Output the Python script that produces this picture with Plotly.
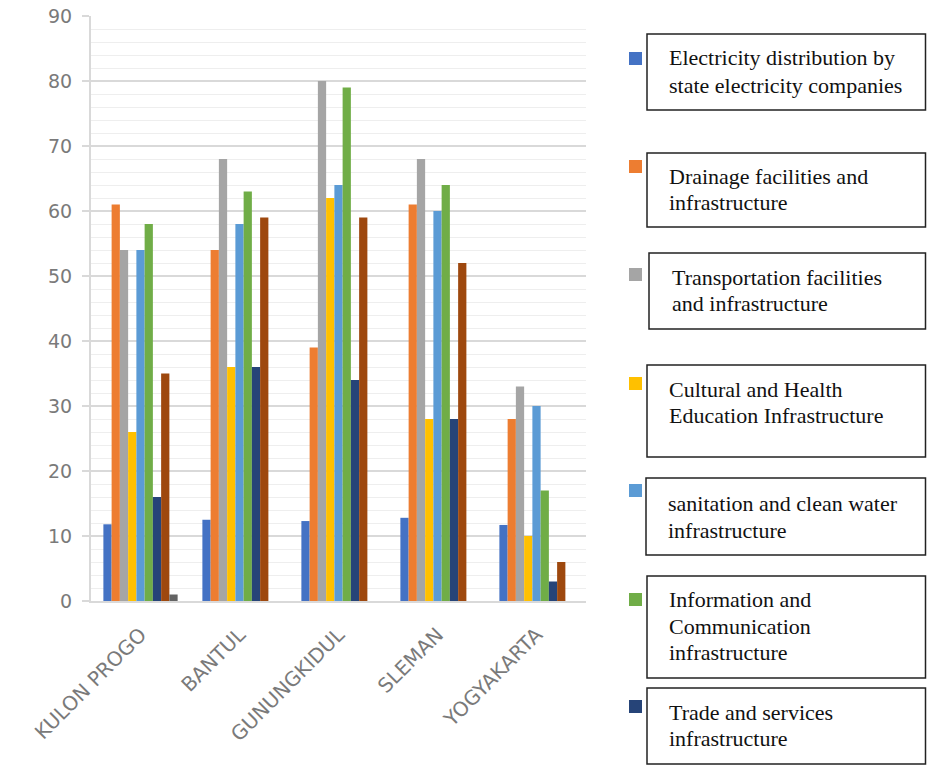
import plotly.graph_objects as go

regions = ["KULON PROGO", "BANTUL", "GUNUNGKIDUL", "SLEMAN", "YOGYAKARTA"]

series_names = [
    "Electricity distribution by state electricity companies",
    "Drainage facilities and infrastructure",
    "Transportation facilities and infrastructure",
    "Cultural and Health Education Infrastructure",
    "sanitation and clean water infrastructure",
    "Information and Communication infrastructure",
    "Trade and services infrastructure",
    "Series 8",
    "Series 9",
]

electricity = [11.8, 12.5, 12.3, 12.8, 11.7]
drainage = [61, 54, 39, 61, 28]
transportation = [54, 68, 80, 68, 33]
cultural_health = [26, 36, 62, 28, 10]
sanitation = [54, 58, 64, 60, 30]
information = [58, 63, 79, 64, 17]
trade = [16, 36, 34, 28, 3]
series8 = [35, 59, 59, 52, 6]
series9 = [1, 0, 0, 0, 0]

values = [electricity, drainage, transportation, cultural_health, sanitation,
          information, trade, series8, series9]

colors = ["#4472C4", "#ED7D31", "#A5A5A5", "#FFC000", "#5B9BD5",
          "#70AD47", "#264478", "#9E480E", "#636363"]

legend_lines = [
    ["Electricity distribution by", "state electricity companies"],
    ["Drainage facilities and", "infrastructure"],
    ["Transportation facilities", "and infrastructure"],
    ["Cultural and Health", "Education Infrastructure"],
    ["sanitation and clean water", "infrastructure"],
    ["Information and", "Communication", "infrastructure"],
    ["Trade and services", "infrastructure"],
]

# layout geometry (pixels)
FW, FH = 927, 765
L, R, T, B = 91, 586, 16, 601
PW, PH = R - L, B - T


def px(x):
    return (x - L) / PW


def py(y):
    return (B - y) / PH


fig = go.Figure()
for name, vals, col in zip(series_names, values, colors):
    fig.add_trace(go.Bar(x=regions, y=vals, name=name, marker_color=col,
                         marker_line_width=0, showlegend=False))

# legend boxes: (left, top, bottom, square_top, text_x, line centers)
boxes = [
    (647, 34, 110, 52, 667, [58, 85]),
    (647, 153, 227, 160, 667, [176, 202]),
    (649, 253, 329, 268, 670, [277, 303]),
    (647, 365, 457, 377, 667, [389, 415]),
    (646, 478, 555, 484, 666, [503, 530]),
    (647, 576, 678, 593, 667, [599, 626, 652]),
    (647, 688, 764, 700, 667, [712, 738]),
]

shapes = []
annotations = []
for (bl, bt, bb, sq, tx, lines_y), lines, col in zip(boxes, legend_lines, colors):
    shapes.append(dict(type="rect", xref="paper", yref="paper",
                       x0=px(bl), x1=px(925.5), y0=py(bb), y1=py(bt),
                       line=dict(color="#222222", width=1.5), fillcolor="rgba(0,0,0,0)"))
    shapes.append(dict(type="rect", xref="paper", yref="paper",
                       x0=px(629), x1=px(642), y0=py(sq + 13), y1=py(sq),
                       line=dict(width=0), fillcolor=col))
    for txt, ly in zip(lines, lines_y):
        annotations.append(dict(text=txt, xref="paper", yref="paper",
                                x=px(tx), y=py(ly), xanchor="left", yanchor="middle",
                                showarrow=False,
                                font=dict(family="Liberation Serif", size=22, color="#111111")))

fig.update_layout(
    width=FW, height=FH,
    margin=dict(l=L, r=FW - R, t=T, b=FH - B, autoexpand=False),
    paper_bgcolor="white", plot_bgcolor="white",
    barmode="group", bargap=0.25, bargroupgap=0,
    shapes=shapes, annotations=annotations,
    showlegend=False,
)
fig.update_xaxes(
    range=[-0.5, 4.5], showline=True, linecolor="#d9d9d9", linewidth=2,
    tickangle=-45, ticks="", ticklabelstandoff=12,
    tickfont=dict(family="DejaVu Sans", size=20, color="#7a7a7a"),
    showgrid=False, zeroline=False,
)
fig.update_yaxes(
    range=[0, 90], tickvals=list(range(0, 91, 10)),
    showline=True, linecolor="#d9d9d9", linewidth=2,
    ticks="outside", ticklen=7, tickcolor="#d9d9d9", tickwidth=2,
    ticklabelstandoff=6,
    tickfont=dict(family="DejaVu Sans", size=19, color="#7a7a7a"),
    showgrid=True, gridcolor="#d9d9d9", gridwidth=2,
    minor=dict(dtick=2, showgrid=True, gridcolor="#eeeeee", gridwidth=1),
    zeroline=False,
)

fig.write_html("out.html")
